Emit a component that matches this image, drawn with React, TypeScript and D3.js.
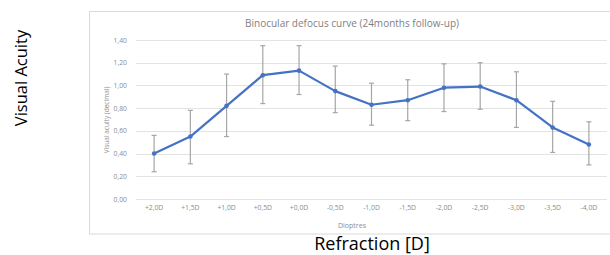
import React, { useEffect, useRef } from 'react';
import * as d3 from 'd3';

const categories = ['+2,0D', '+1,5D', '+1,0D', '+0,5D', '+0,0D', '-0,5D', '-1,0D', '-1,5D', '-2,0D', '-2,5D', '-3,0D', '-3,5D', '-4,0D'];
const acuity = [0.40, 0.55, 0.82, 1.09, 1.13, 0.95, 0.83, 0.87, 0.98, 0.99, 0.87, 0.63, 0.48];
const upper = [0.56, 0.78, 1.10, 1.35, 1.35, 1.17, 1.02, 1.05, 1.19, 1.20, 1.12, 0.86, 0.68];
const lower = [0.24, 0.31, 0.55, 0.84, 0.92, 0.76, 0.65, 0.69, 0.77, 0.79, 0.63, 0.41, 0.30];
const yTicks = [0, 0.2, 0.4, 0.6, 0.8, 1.0, 1.2, 1.4];

const App = () => {
  const svgRef = useRef<SVGSVGElement>(null);

  useEffect(() => {
    const svg = d3.select(svgRef.current);
    svg.selectAll('*').remove();

    const font = 'Open Sans, Liberation Sans, sans-serif';

    // chart frame
    svg.append('rect')
      .attr('x', 89.5).attr('y', 11.5)
      .attr('width', 530).attr('height', 222.5)
      .attr('fill', 'white')
      .attr('stroke', '#d9d9d9');

    const x = d3.scaleBand().domain(categories).range([136, 607]);
    const y = d3.scaleLinear().domain([0, 1.4]).range([199, 40]);

    // gridlines
    svg.append('g').selectAll('line')
      .data(yTicks)
      .join('line')
      .attr('x1', 136).attr('x2', 607)
      .attr('y1', d => Math.round(y(d)) + 0.5)
      .attr('y2', d => Math.round(y(d)) + 0.5)
      .attr('stroke', '#e3e3e3');

    // y tick labels
    svg.append('g').selectAll('text')
      .data(yTicks)
      .join('text')
      .attr('x', 127)
      .attr('y', d => y(d) + 2.5)
      .attr('text-anchor', 'end')
      .style('font-family', font)
      .style('font-size', '6.8px')
      .attr('fill', '#8c8c8c')
      .text(d => d3.format('.2f')(d).replace('.', ','));

    // x tick labels
    svg.append('g').selectAll('text')
      .data(categories)
      .join('text')
      .attr('x', d => x(d)! + x.bandwidth() / 2)
      .attr('y', 210)
      .attr('text-anchor', 'middle')
      .style('font-family', font)
      .style('font-size', '6.8px')
      .attr('fill', '#8c8c8c')
      .text(d => d);

    const cx = (i: number) => x(categories[i])! + x.bandwidth() / 2;

    // error bars
    const bars = svg.append('g')
      .attr('stroke', '#a6a6a6')
      .attr('stroke-width', 1.2);
    acuity.forEach((_, i) => {
      bars.append('line').attr('x1', cx(i)).attr('x2', cx(i)).attr('y1', y(upper[i])).attr('y2', y(lower[i]));
      bars.append('line').attr('x1', cx(i) - 2.5).attr('x2', cx(i) + 2.5).attr('y1', y(upper[i])).attr('y2', y(upper[i]));
      bars.append('line').attr('x1', cx(i) - 2.5).attr('x2', cx(i) + 2.5).attr('y1', y(lower[i])).attr('y2', y(lower[i]));
    });

    // line
    const line = d3.line<number>()
      .x((_, i) => cx(i))
      .y(d => y(d));
    svg.append('path')
      .datum(acuity)
      .attr('d', line)
      .attr('fill', 'none')
      .attr('stroke', '#4472c4')
      .attr('stroke-width', 2.2)
      .attr('stroke-linejoin', 'round');

    svg.append('g').selectAll('circle')
      .data(acuity)
      .join('circle')
      .attr('cx', (_, i) => cx(i))
      .attr('cy', d => y(d))
      .attr('r', 2.3)
      .attr('fill', '#4472c4');

    // titles
    svg.append('text')
      .attr('x', 352).attr('y', 27)
      .attr('text-anchor', 'middle')
      .style('font-family', font)
      .style('font-size', '10px')
      .attr('fill', '#7f7f7f')
      .text('Binocular defocus curve (24months follow-up)');

    svg.append('text')
      .attr('transform', 'translate(109,120) rotate(-90)')
      .attr('text-anchor', 'middle')
      .style('font-family', font)
      .style('font-size', '6.5px')
      .attr('fill', '#8c8c8c')
      .text('Visual acuity (decimal)');

    svg.append('text')
      .attr('x', 352).attr('y', 228)
      .attr('text-anchor', 'middle')
      .style('font-family', font)
      .style('font-size', '7px')
      .attr('fill', '#8c8c8c')
      .text('Dioptres');

    svg.append('text')
      .attr('transform', 'translate(27,78) rotate(-90)')
      .attr('text-anchor', 'middle')
      .style('font-family', font)
      .style('font-size', '16.5px')
      .attr('fill', '#000')
      .text('Visual Acuity');

    svg.append('text')
      .attr('x', 372).attr('y', 250)
      .attr('text-anchor', 'middle')
      .style('font-family', font)
      .style('font-size', '18px')
      .attr('fill', '#000')
      .text('Refraction [D]');
  }, []);

  return (
    <svg ref={svgRef} width={610} height={255}
      style={{ position: 'absolute', left: 0, top: 0, background: 'white' }} />
  );
};

export default App;
